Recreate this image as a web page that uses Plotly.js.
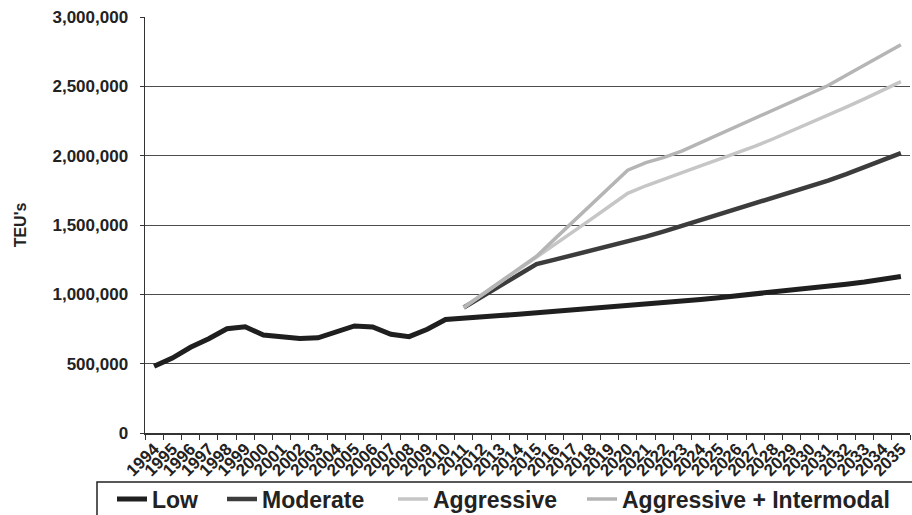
<!DOCTYPE html>
<html>
<head>
<meta charset="utf-8">
<script src="https://cdn.plot.ly/plotly-3.0.1.min.js"></script>
<style>
  html, body { margin: 0; padding: 0; background: #ffffff; }
  #chart { width: 912px; height: 515px; }
</style>
</head>
<body>
<div id="chart"></div>
<script>
// ---- Data ----
var years = ["1994","1995","1996","1997","1998","1999","2000","2001","2002","2003",
  "2004","2005","2006","2007","2008","2009","2010","2011","2012","2013",
  "2014","2015","2016","2017","2018","2019","2020","2021","2022","2023",
  "2024","2025","2026","2027","2028","2029","2030","2031","2032","2033",
  "2034","2035"];

var lowValues = [481000, 540000, 618000, 680000, 752000, 766000, 706000, 696000, 682000, 686000,
  728000, 772000, 765000, 712000, 695000, 748000, 818000, 830000, 838000, 847000,
  856000, 866000, 877000, 888000, 899000, 910000, 920000, 930000, 941000, 951000,
  963000, 976000, 989000, 1002000, 1015000, 1029000, 1043000, 1058000, 1073000, 1089000,
  1106000, 1128000];

var moderateValues = [null, null, null, null, null, null, null, null, null, null,
  null, null, null, null, null, null, null, 905000, 983000, 1061000,
  1140000, 1218000, 1250000, 1282000, 1314000, 1346000, 1380000, 1416000, 1454000, 1494000,
  1534000, 1575000, 1614000, 1652000, 1692000, 1733000, 1775000, 1820000, 1867000, 1915000,
  1965000, 2018000];

var aggressiveValues = [null, null, null, null, null, null, null, null, null, null,
  null, null, null, null, null, null, null, 905000, 995000, 1085000,
  1175000, 1265000, 1358000, 1450000, 1542000, 1635000, 1728000, 1783000, 1833000, 1880000,
  1927000, 1973000, 2018000, 2068000, 2122000, 2178000, 2235000, 2292000, 2350000, 2410000,
  2470000, 2534000];

var aggIntermodalValues = [null, null, null, null, null, null, null, null, null, null,
  null, null, null, null, null, null, null, 905000, 997000, 1090000,
  1182000, 1275000, 1400000, 1525000, 1648000, 1772000, 1895000, 1950000, 1988000, 2035000,
  2094000, 2153000, 2212000, 2271000, 2330000, 2390000, 2447000, 2506000, 2580000, 2653000,
  2726000, 2800000];

var yTickValues = [0, 500000, 1000000, 1500000, 2000000, 2500000, 3000000];

// ---- Styling ----
var FONT = "Liberation Sans, Arial, Helvetica, sans-serif";
var TXT = "#222222";

function trace(name, values, color, width, legendId) {
  return {
    type: "scatter",
    mode: "lines",
    name: name,
    x: years,
    y: values,
    connectgaps: false,
    line: { color: color, width: width },
    legend: legendId,
    hoverinfo: "x+y+name"
  };
}

var data = [
  trace("Low", lowValues, "#1f1f1f", 5, "legend"),
  trace("Moderate", moderateValues, "#3c3c3c", 4.5, "legend2"),
  trace("Aggressive", aggressiveValues, "#c6c6c6", 3.5, "legend3"),
  trace("Aggressive + Intermodal", aggIntermodalValues, "#b5b5b5", 3.5, "legend4")
];

function legendAt(px) {
  return {
    xref: "container", yref: "container",
    x: px / 912, xanchor: "left",
    y: 1 - 499 / 515, yanchor: "middle",
    orientation: "h",
    bgcolor: "rgba(0,0,0,0)",
    borderwidth: 0,
    font: { family: FONT, size: 23, color: TXT, weight: "bold" }
  };
}

var layout = {
  width: 912,
  height: 515,
  margin: { l: 145, r: 2, t: 17, b: 82, pad: 0 },
  paper_bgcolor: "#ffffff",
  plot_bgcolor: "#ffffff",
  showlegend: true,
  legend: legendAt(112),
  legend2: legendAt(222),
  legend3: legendAt(393),
  legend4: legendAt(582),
  xaxis: {
    type: "category",
    range: [-0.5, years.length - 0.5],
    tickmode: "linear",
    tick0: 0,
    dtick: 1,
    tickson: "boundaries",
    ticks: "outside",
    ticklen: 5,
    tickcolor: "#333333",
    tickangle: -45,
    ticklabelstandoff: -2,
    tickfont: { family: FONT, size: 17, color: TXT, weight: "bold" },
    showgrid: false,
    showline: true,
    linecolor: "#333333",
    linewidth: 1.5,
    zeroline: false,
    fixedrange: true
  },
  yaxis: {
    range: [0, 3000000],
    tickmode: "array",
    tickvals: yTickValues,
    tickformat: ",d",
    ticks: "outside",
    ticklen: 4,
    tickcolor: "#333333",
    ticklabelstandoff: 8,
    tickfont: { family: FONT, size: 17, color: TXT, weight: "bold" },
    showgrid: true,
    gridcolor: "#4d4d4d",
    gridwidth: 1,
    showline: true,
    linecolor: "#333333",
    linewidth: 1.5,
    zeroline: false,
    fixedrange: true,
    title: {
      text: "TEU's",
      standoff: 22,
      font: { family: FONT, size: 16, color: TXT, weight: "bold" }
    }
  },
  shapes: [
    {
      type: "rect",
      xref: "paper", yref: "paper",
      x0: (97 - 145) / 765, x1: (925 - 145) / 765,
      y0: 1 - (530 - 17) / 416, y1: 1 - (482 - 17) / 416,
      line: { color: "#222222", width: 1.5 },
      fillcolor: "rgba(0,0,0,0)",
      layer: "above"
    }
  ]
};

Plotly.newPlot("chart", data, layout, { displayModeBar: false, staticPlot: true });
</script>
</body>
</html>
